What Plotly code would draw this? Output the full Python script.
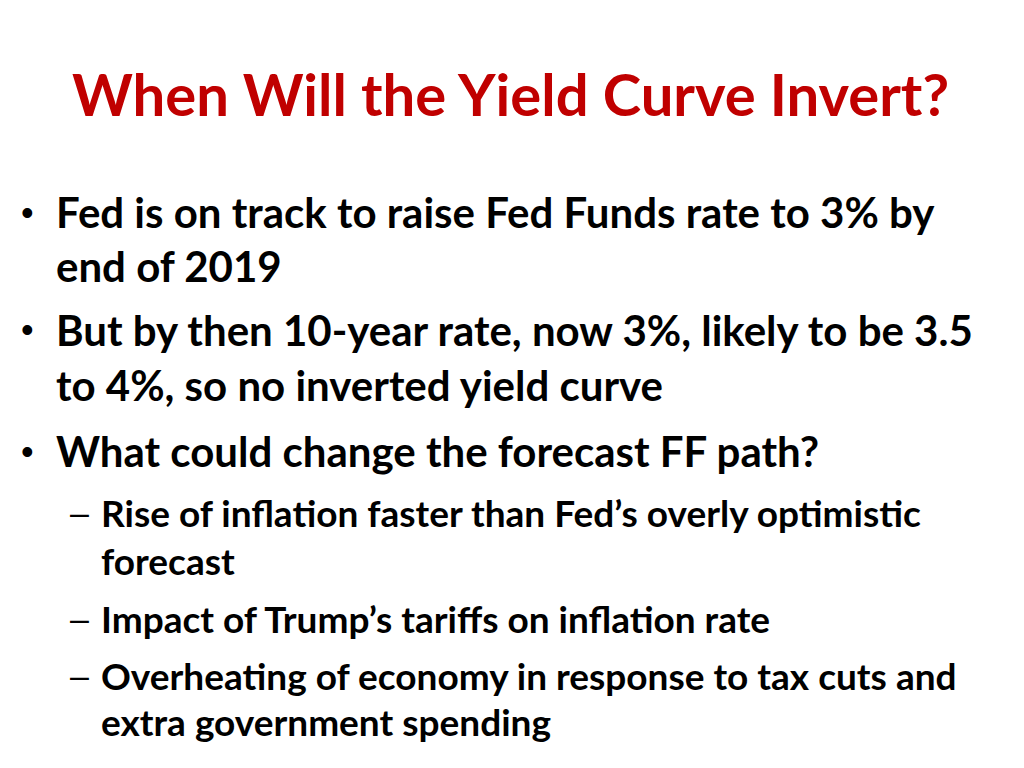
import plotly.graph_objects as go

W, H = 1024, 768

title = "When Will the Yield Curve Invert?"

# top-level bullets, each as wrapped lines
bullets = [
    ["Fed is on track to raise Fed Funds rate to 3% by", "end of 2019"],
    ["But by then 10-year rate, now 3%, likely to be 3.5", "to 4%, so no inverted yield curve"],
    ["What could change the forecast FF path?"],
]

# second-level items under the last bullet
sub_items = [
    ["Rise of inflation faster than Fed\u2019s overly optimistic", "forecast"],
    ["Impact of Trump\u2019s tariffs on inflation rate"],
    ["Overheating of economy in response to tax cuts and", "extra government spending"],
]

FONT = "Lato"
RED = "#C00000"

# pixel rows for each wrapped line (top to bottom); page adds ~10px offset
bullet_rows = [[204, 258], [322, 377], [443]]
sub_rows = [[504, 552], [610], [667, 713]]


def px(x, y):
    return x / W, 1 - y / H


fig = go.Figure()
ann = []

tx, ty = px(502, 86)
ann.append(dict(x=tx, y=ty, text="<b>%s</b>" % title, xanchor="center", yanchor="middle",
                font=dict(family=FONT, size=58, color=RED)))

for lines, rows in zip(bullets, bullet_rows):
    bx, by = px(11, rows[0])
    ann.append(dict(x=bx, y=by, text="\u2022", xanchor="left", yanchor="middle",
                    font=dict(family="Arial", size=36, color="black")))
    for line, r in zip(lines, rows):
        lx, ly = px(46, r)
        ann.append(dict(x=lx, y=ly, text="<b>%s</b>" % line, xanchor="left", yanchor="middle",
                        font=dict(family=FONT, size=42, color="black")))

for lines, rows in zip(sub_items, sub_rows):
    dx, dy = px(60, rows[0])
    ann.append(dict(x=dx, y=dy, text="\u2013", xanchor="left", yanchor="middle",
                    font=dict(family="Arial", size=34, color="black")))
    for line, r in zip(lines, rows):
        lx, ly = px(91, r)
        ann.append(dict(x=lx, y=ly, text="<b>%s</b>" % line, xanchor="left", yanchor="middle",
                        font=dict(family=FONT, size=37, color="black")))

for a in ann:
    a.update(xref="paper", yref="paper", showarrow=False)

fig.update_layout(
    width=W, height=H,
    margin=dict(l=0, r=0, t=0, b=0),
    paper_bgcolor="white", plot_bgcolor="white",
    xaxis=dict(visible=False, range=[0, 1]),
    yaxis=dict(visible=False, range=[0, 1]),
    annotations=ann,
    showlegend=False,
)

fig.write_html("out.html")
